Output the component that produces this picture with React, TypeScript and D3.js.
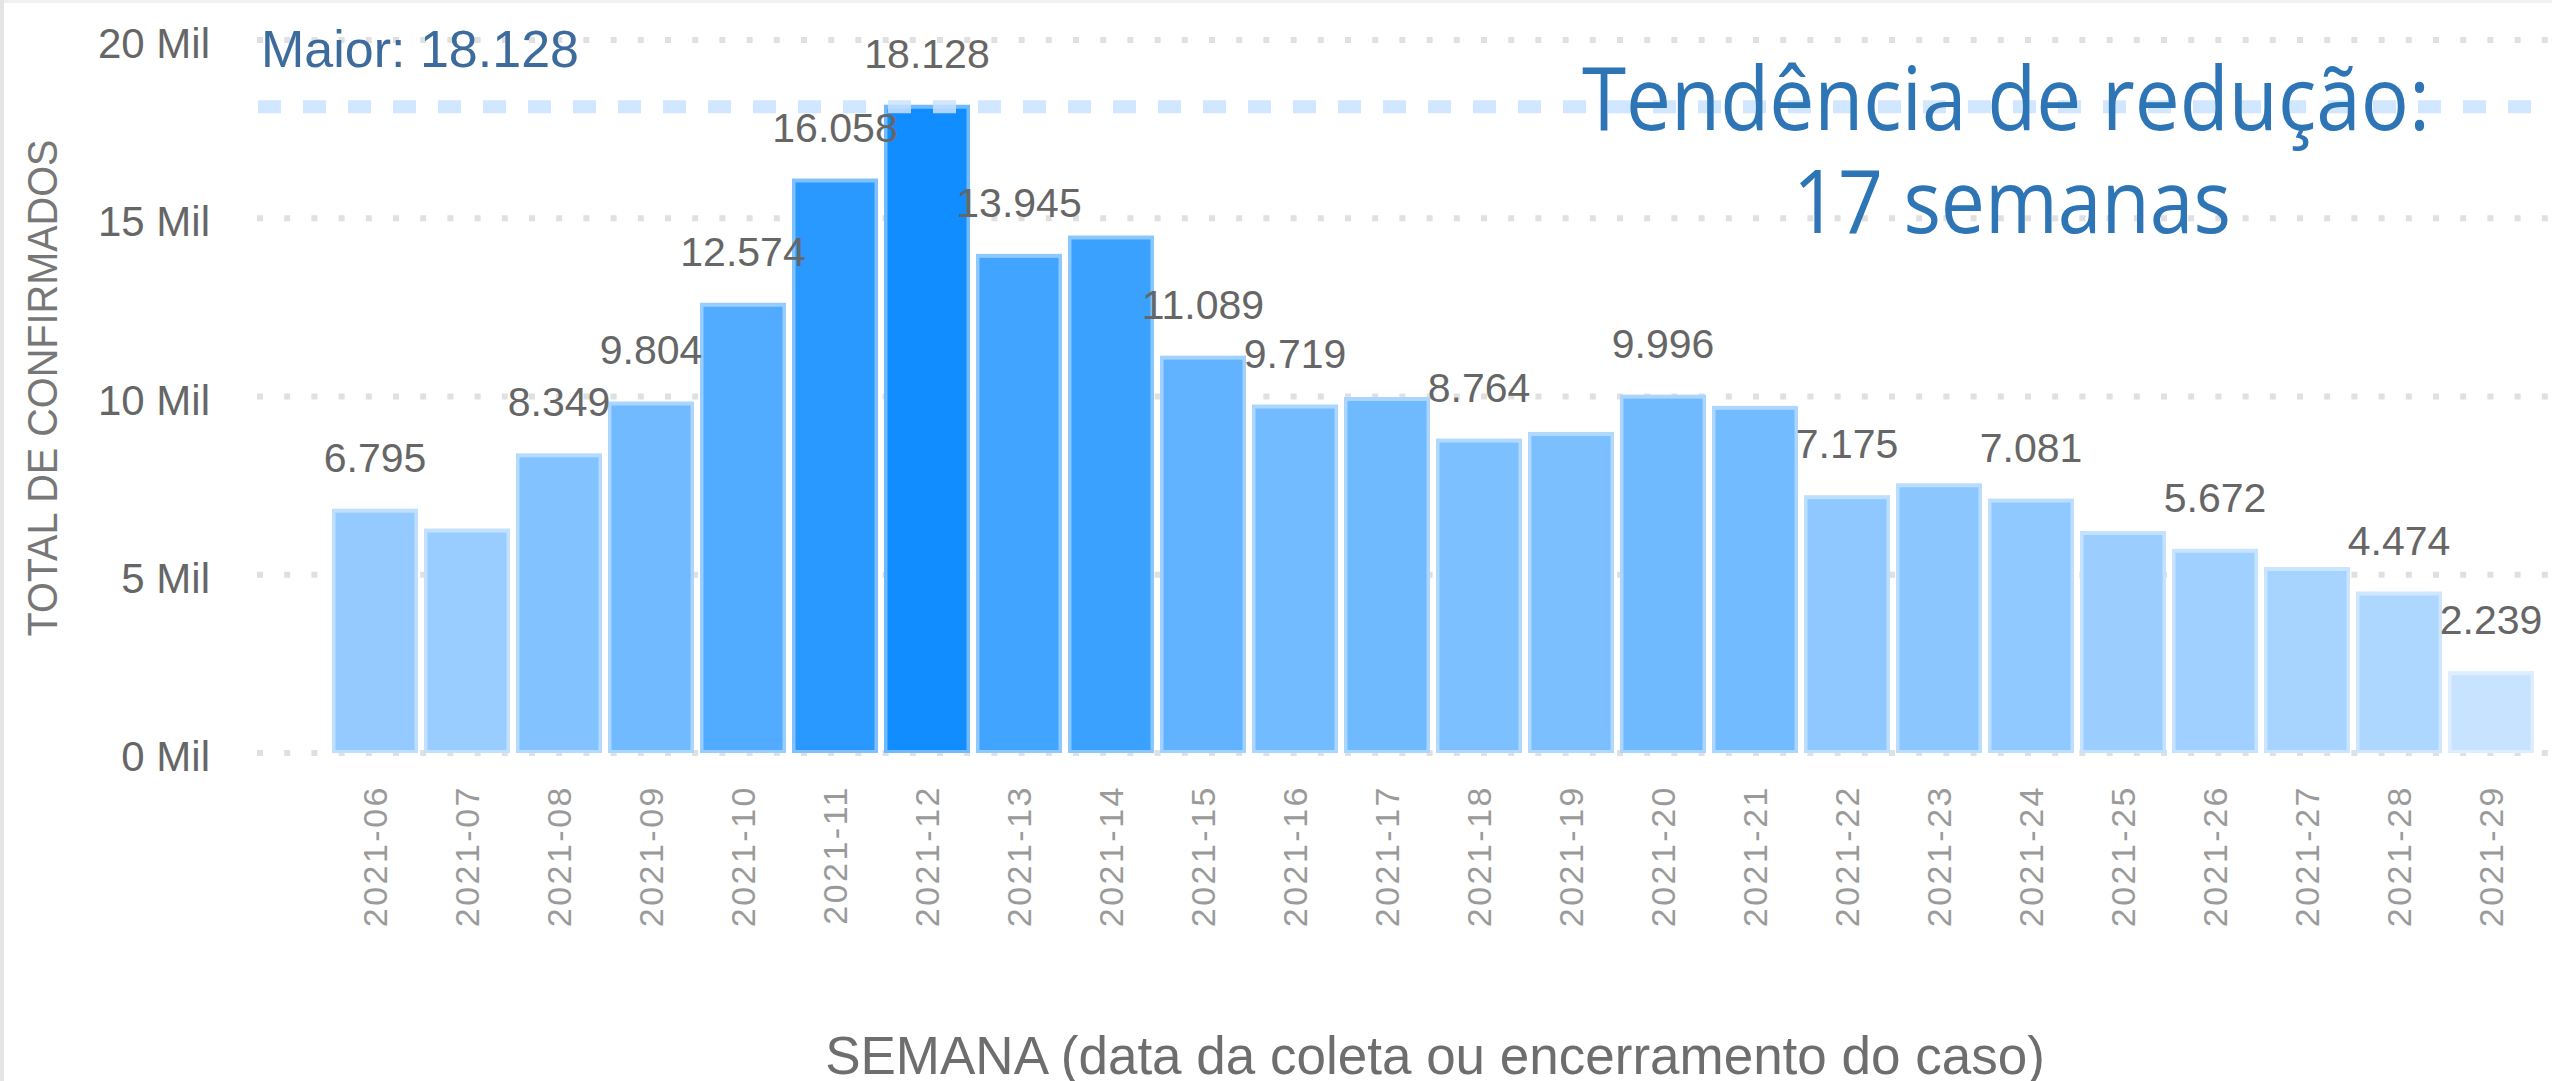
import * as d3 from "d3";

// semanas epidemiológicas e total de confirmados
const weeks = [
  "2021-06", "2021-07", "2021-08", "2021-09", "2021-10", "2021-11",
  "2021-12", "2021-13", "2021-14", "2021-15", "2021-16", "2021-17",
  "2021-18", "2021-19", "2021-20", "2021-21", "2021-22", "2021-23",
  "2021-24", "2021-25", "2021-26", "2021-27", "2021-28", "2021-29",
];
const confirmed = [
  6795, 6240, 8349, 9804, 12574, 16058,
  18128, 13945, 14460, 11089, 9719, 9930,
  8764, 8950, 9996, 9680, 7175, 7510,
  7081, 6170, 5672, 5160, 4474, 2239,
];
// semanas cujo rótulo aparece no gráfico (as outras ficam escondidas)
const labeledWeeks = [
  "2021-06", "2021-08", "2021-09", "2021-10", "2021-11", "2021-12",
  "2021-13", "2021-15", "2021-16", "2021-18", "2021-20", "2021-22",
  "2021-24", "2021-26", "2021-28", "2021-29",
];
const yTicks = [0, 5000, 10000, 15000, 20000];
const trendText = ["Tendência de redução:", "17 semanas"];

const W = 2552;
const H = 1081;

const fmt = (v: number) => d3.format(",")(v).replace(/,/g, ".");

export default function App() {
  const x = d3.scaleBand<string>().domain(weeks).range([329, 2537]).paddingInner(0.065).paddingOuter(0.0325);
  const y = d3.scaleLinear().domain([0, 20000]).range([753, 40]);

  const maxV = d3.max(confirmed) as number;
  const minV = d3.min(confirmed) as number;
  const color = d3.scaleLinear<string>().domain([minV, maxV]).range(["#C8E3FF", "#118DFF"]);

  const gridX0 = 257;

  return (
    <svg
      width={W}
      height={H}
      style={{ position: "absolute", left: 0, top: 0, display: "block", background: "#fff" }}
      fontFamily="'Liberation Sans', Arial, sans-serif"
    >
      {/* borda do visual */}
      <rect x={0} y={0} width={W} height={3} fill="#F0F0F0" />
      <rect x={0} y={0} width={4} height={H} fill="#E4E4E4" />

      {/* linhas de grade pontilhadas */}
      {yTicks.map((t) => (
        <line
          key={t}
          x1={gridX0}
          x2={W}
          y1={y(t)}
          y2={y(t)}
          stroke="#E0E0E0"
          strokeWidth={6}
          strokeDasharray="6 21.2"
        />
      ))}

      {/* eixo y */}
      {yTicks.map((t) => (
        <text key={t} x={210} y={y(t) + 18} textAnchor="end" fontSize={42} fill="#666">
          {t / 1000} Mil
        </text>
      ))}
      <text
        transform={`translate(57, 388) rotate(-90)`}
        textAnchor="middle"
        fontSize={42}
        fill="#777"
        textLength={497}
        lengthAdjust="spacingAndGlyphs"
      >
        TOTAL DE CONFIRMADOS
      </text>

      {/* barras */}
      {weeks.map((w, i) => {
        const v = confirmed[i];
        const x0 = x(w) as number;
        const bw = x.bandwidth();
        const top = y(v);
        const fill = color(v);
        const edge = d3.interpolateRgb(fill, "#ffffff")(0.4);
        return (
          <g key={w}>
            <rect x={x0} y={top - 2} width={bw} height={y(0) - top + 2} fill={edge} />
            <rect x={x0 + 3.5} y={top + 2} width={bw - 7} height={y(0) - top - 5} fill={fill} />
          </g>
        );
      })}

      {/* linha do maior valor */}
      <line
        x1={258}
        x2={W}
        y1={y(maxV)}
        y2={y(maxV)}
        stroke="#C9E2FF"
        strokeOpacity={0.85}
        strokeWidth={13}
        strokeDasharray="23 22"
      />
      <text x={261} y={67} fontSize={52} fill="#3D6C9C">
        Maior: {fmt(maxV)}
      </text>

      {/* rótulos de dados */}
      {weeks.map((w, i) =>
        labeledWeeks.includes(w) ? (
          <text
            key={w}
            x={(x(w) as number) + x.bandwidth() / 2}
            y={y(confirmed[i]) - 39}
            textAnchor="middle"
            fontSize={41}
            fill="#666"
          >
            {fmt(confirmed[i])}
          </text>
        ) : null
      )}

      {/* rótulos do eixo x */}
      {weeks.map((w) => (
        <text
          key={w}
          transform={`translate(${(x(w) as number) + x.bandwidth() / 2 + 12}, 785) rotate(-90)`}
          textAnchor="end"
          fontSize={34}
          letterSpacing={2.5}
          fill="#9A9A9A"
        >
          {w}
        </text>
      ))}
      <text x={1435} y={1074} textAnchor="middle" fontSize={53} fill="#6E6E6E">
        SEMANA (data da coleta ou encerramento do caso)
      </text>

      {/* anotação */}
      <text
        x={2006}
        y={130}
        textAnchor="middle"
        fontSize={87}
        fill="#2E75B6"
        fontFamily="'Open Sans', 'Noto Sans', sans-serif"
        textLength={848}
        lengthAdjust="spacingAndGlyphs"
      >
        {trendText[0]}
      </text>
      <text
        x={2012}
        y={233}
        textAnchor="middle"
        fontSize={87}
        fill="#2E75B6"
        fontFamily="'Open Sans', 'Noto Sans', sans-serif"
        textLength={438}
        lengthAdjust="spacingAndGlyphs"
      >
        {trendText[1]}
      </text>
    </svg>
  );
}
